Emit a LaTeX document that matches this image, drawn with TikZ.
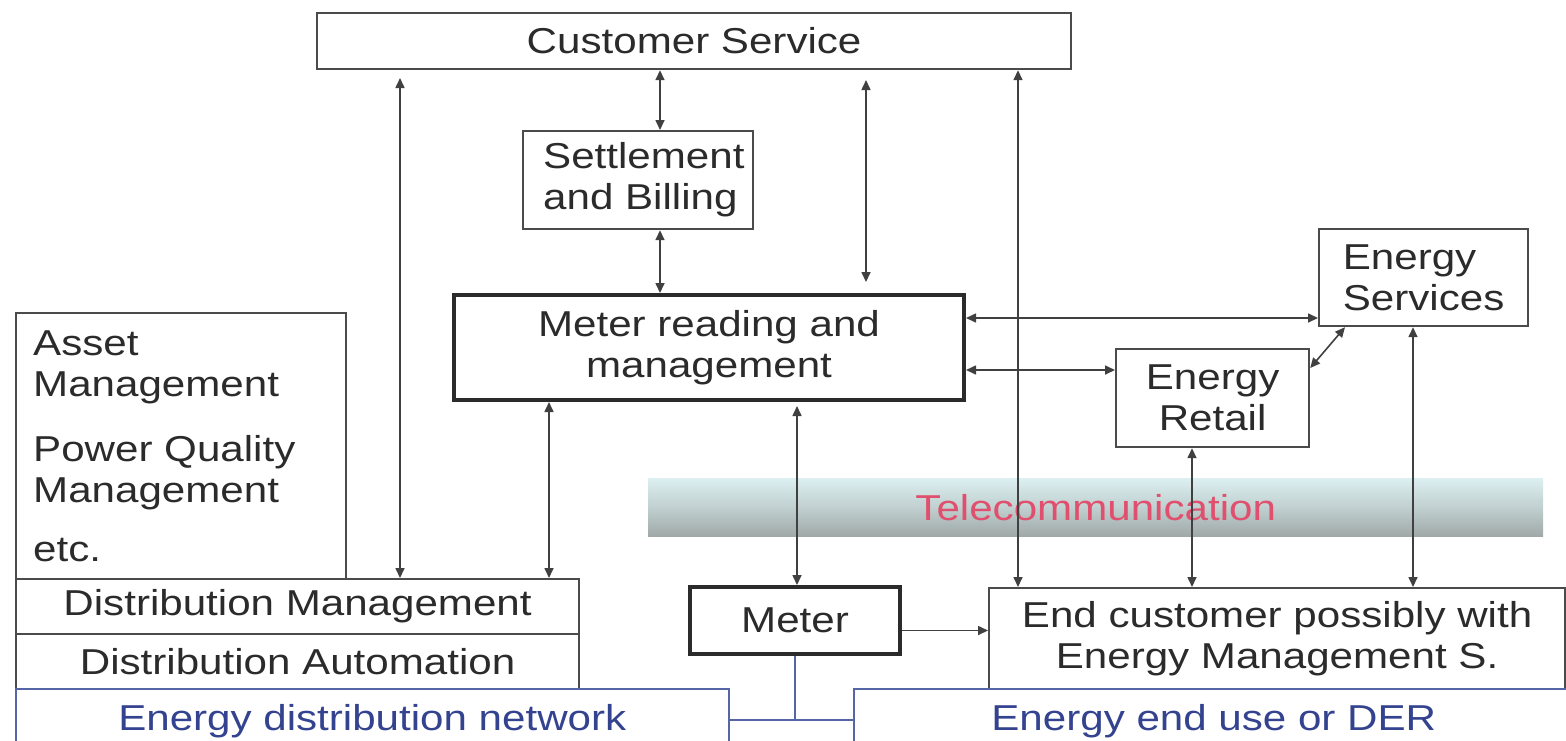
\documentclass[tikz,border=0pt]{standalone}
\usepackage{fontspec}
\setmainfont{Liberation Sans}[FakeStretch=1.17]
\usetikzlibrary{arrows.meta,calc}
\definecolor{ink}{HTML}{2B2B2B}
\definecolor{wire}{HTML}{404040}
\definecolor{netblue}{HTML}{34438F}
\definecolor{netline}{HTML}{5566A6}
\definecolor{telepink}{HTML}{E0506E}
\definecolor{teletop}{HTML}{DCEFF1}
\definecolor{telebot}{HTML}{9FA9A7}

\begin{document}
\begin{tikzpicture}[x=1pt,y=-1pt,
  lbl/.style={font=\fontsize{36}{41}\selectfont, text=ink},
  box/.style={draw=ink!85, line width=2.2pt, rectangle, anchor=north west,
    inner sep=0pt, lbl, align=center},
  heavybox/.style={box, draw=ink, line width=4pt},
  netbox/.style={draw=netline, line width=1.6pt, rectangle, anchor=north west,
    inner sep=0pt, font=\fontsize{36}{41}\selectfont, text=netblue},
  link/.style={draw=wire, line width=1.6pt, {Triangle[length=10pt,width=9pt]}-{Triangle[length=10pt,width=9pt]}},
  feed/.style={draw=wire, line width=1.6pt, -{Triangle[length=10pt,width=9pt]}},
  tie/.style={draw=netline, line width=1.6pt}
]
\useasboundingbox (0,0) rectangle (1566,740);
\clip (0,0) rectangle (1566,740);

% telecommunication band
\node[anchor=north west, minimum width=895pt, minimum height=58pt, inner sep=0pt,
  top color=teletop, bottom color=telebot, middle color=teletop!55!telebot,
  text=telepink, font=\fontsize{36}{41}\selectfont] (tc) at (648,478) {Telecommunication};

% boxes
\node[box, minimum width=754pt, minimum height=56pt] (cs) at (316,12) {Customer Service};
\node[box, minimum width=230pt, minimum height=98pt] (sb) at (522,130) {};
\node[lbl, anchor=north west, align=left, inner sep=0pt] (sbtext) at (543,142) {Settlement\\and Billing};
\node[heavybox, minimum width=510pt, minimum height=105pt] (mr) at (452,293) {Meter reading and\\management};
\node[box, minimum width=209pt, minimum height=97pt, align=left] (es) at (1318,228) {Energy\\Services};
\node[box, minimum width=193pt, minimum height=98pt] (er) at (1115,348) {Energy\\Retail};
\node[box, minimum width=330pt, minimum height=266pt] (am) at (15,312) {};
\node[lbl, anchor=north west, align=left, inner sep=0pt] (amtext) at (33,331)
  {Asset\\Management\\[24pt]Power Quality\\Management\\[18pt]etc.};
\node[box, minimum width=563pt, minimum height=55pt] (dm) at (15,578) {Distribution Management};
\node[box, minimum width=563pt, minimum height=55pt] (da) at (15,633) {Distribution Automation};
\node[heavybox, minimum width=210pt, minimum height=67pt] (mt) at (688,585) {Meter};
\node[box, minimum width=576pt, minimum height=101pt] (ec) at (988,587) {End customer possibly with\\Energy Management S.};
\node[netbox, minimum width=713pt, minimum height=64pt] (edn) at (15,688) {Energy distribution network};
\node[netbox, minimum width=720pt, minimum height=64pt] (eu) at (853,688) {Energy end use or DER};

% free connector ends
\coordinate (csA) at (400,78);
\coordinate (csB) at (866,80);
\coordinate (mrB) at (866,282);
\coordinate (mrC) at (797,406);
\coordinate (mtOut) at ($(mt.east)+(0,10)$);
\coordinate (junction) at ($(mt.south)+(0,64)$);

% connectors
\draw[link] (csA) -- (csA |- dm.north);
\draw[link] (cs.south -| 660,0) -- (sb.north -| 660,0);
\draw[link] (sb.south -| 660,0) -- (mr.north -| 660,0);
\draw[link] (csB) -- (mrB);
\draw[link] (cs.south -| 1018,0) -- (ec.north -| 1018,0);
\draw[link] (mr.south -| 549,0) -- (dm.north -| 549,0);
\draw[link] (mrC) -- (mt.north -| mrC);
\draw[link] (mr.east |- 0,318) -- (es.west |- 0,318);
\draw[link] (mr.east |- 0,370) -- (er.west |- 0,370);
\draw[link] ($(er.north east)+(0,20)$) -- ($(es.south west)+(27,0)$);
\draw[link] (er.south -| 1192,0) -- (ec.north -| 1192,0);
\draw[link] (es.south -| 1413,0) -- (ec.north -| 1413,0);
\draw[feed] (mtOut) -- (ec.west |- mtOut);

% supply ties
\draw[tie] (mt.south) -- (junction);
\draw[tie] (edn.east |- junction) -- (eu.west |- junction);
\end{tikzpicture}
\end{document}
